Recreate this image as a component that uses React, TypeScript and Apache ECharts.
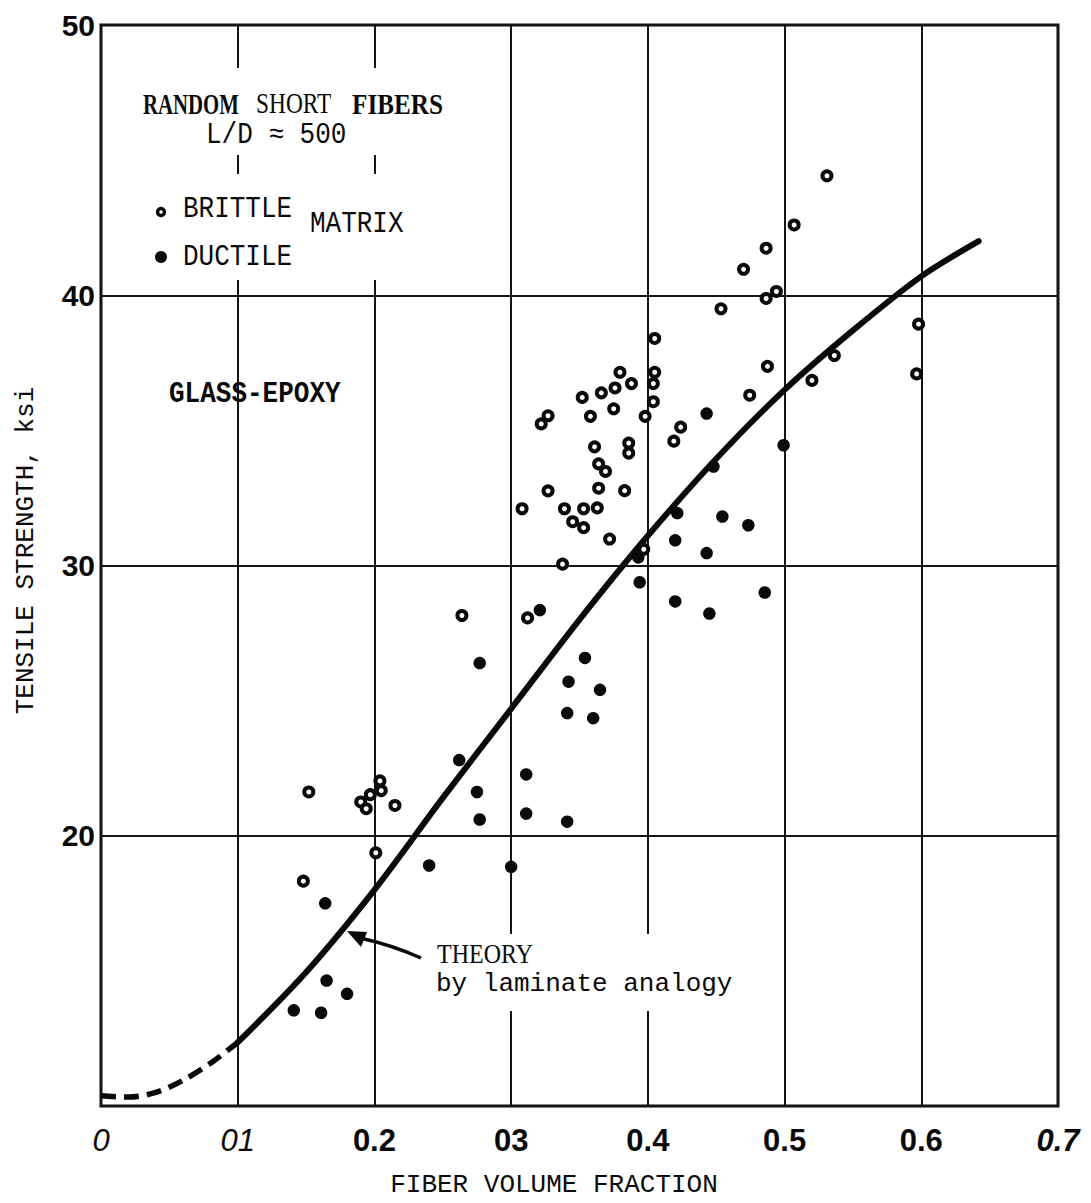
import React, { useEffect, useRef } from "react";
import * as echarts from "echarts";

// ---- data ----
const xTickLabels = ["0", "01", "0.2", "03", "0.4", "0.5", "0.6", "0.7"];
const xTickItalic = [0, 1];
const xTickBoldItalic = [7];
const yTickLabels = ["", "20", "30", "40", "50"]; // values 10..50

// open circles: brittle matrix  [fiber volume fraction, tensile strength ksi]
const brittle: number[][] = [
  [0.152, 21.62], [0.19, 21.25], [0.194, 21.0], [0.197, 21.52], [0.204, 22.03],
  [0.205, 21.67], [0.215, 21.12], [0.201, 19.37], [0.148, 18.32], [0.264, 28.15],
  [0.312, 28.06], [0.308, 32.1], [0.322, 35.24], [0.327, 35.54], [0.327, 32.76],
  [0.3376, 30.05], [0.339, 32.1], [0.345, 31.62], [0.352, 36.22], [0.353, 32.1],
  [0.353, 31.4], [0.358, 35.52], [0.361, 34.39], [0.363, 32.13], [0.364, 33.76],
  [0.364, 32.86], [0.366, 36.39], [0.369, 33.48], [0.372, 30.98], [0.375, 35.8],
  [0.376, 36.57], [0.3796, 37.15], [0.383, 32.77], [0.386, 34.53], [0.386, 34.16],
  [0.388, 36.73], [0.397, 30.6], [0.398, 35.52], [0.404, 36.73], [0.404, 36.06],
  [0.405, 37.15], [0.405, 38.4], [0.419, 34.6], [0.424, 35.12], [0.4535, 39.5],
  [0.47, 40.96], [0.4745, 36.3], [0.4865, 41.74], [0.4865, 39.88], [0.4875, 37.37],
  [0.494, 40.14], [0.507, 42.6], [0.52, 36.85], [0.531, 44.42], [0.5364, 37.77],
  [0.5966, 37.09], [0.598, 38.93],
];

// filled dots: ductile matrix
const ductile: number[][] = [
  [0.141, 13.54], [0.161, 13.45], [0.165, 14.64], [0.18, 14.15], [0.164, 17.5],
  [0.24, 18.9], [0.262, 22.8], [0.275, 21.62], [0.277, 20.6], [0.3, 18.85],
  [0.311, 22.27], [0.311, 20.82], [0.341, 20.52], [0.277, 26.39], [0.321, 28.35],
  [0.341, 24.54], [0.342, 25.7], [0.354, 26.58], [0.36, 24.35], [0.365, 25.4],
  [0.393, 30.3], [0.394, 29.38], [0.42, 28.67], [0.42, 30.93], [0.4215, 31.94],
  [0.443, 35.62], [0.443, 30.46], [0.445, 28.22], [0.448, 33.66], [0.4545, 31.81],
  [0.4735, 31.49], [0.4855, 29.0], [0.4993, 34.45],
];

// theory by laminate analogy (dashed extrapolation, then solid)
const theoryDashed: number[][] = [
  [0, 10.38], [0.02, 10.33], [0.04, 10.5], [0.06, 10.95], [0.08, 11.58], [0.1, 12.35],
];
const theorySolid: number[][] = [
  [0.1, 12.35], [0.15, 14.95], [0.2, 18.0], [0.25, 21.4], [0.3, 24.7], [0.35, 28.0],
  [0.4, 31.1], [0.45, 33.95], [0.5, 36.5], [0.55, 38.7], [0.6, 40.7], [0.642, 42.0],
];

const MONO = "'Liberation Mono', 'DejaVu Sans Mono', monospace";
const SERIF = "'Liberation Serif', 'DejaVu Serif', serif";
const SANS = "'Liberation Sans', Arial, sans-serif";
const INK = "#0a0a0a";

function txt(text: string, x: number, y: number, font: string, extra: any = {}) {
  return {
    type: "text",
    x,
    y,
    z: 10,
    ...extra,
    style: { text, font, fill: INK, textAlign: "left", textVerticalAlign: "middle", ...(extra.style || {}) },
  };
}

export default function App() {
  const ref = useRef<HTMLDivElement>(null);
  useEffect(() => {
    if (!ref.current) return;
    const chart = echarts.init(ref.current, undefined, { renderer: "svg" });
    const option: any = {
      animation: false,
      backgroundColor: "#fff",
      grid: { left: 101, right: 33, top: 25, bottom: 94, show: true, borderColor: INK, borderWidth: 3 },
      xAxis: {
        type: "value",
        min: 0,
        max: 0.7,
        interval: 0.1,
        axisLine: { show: false },
        axisTick: { show: false },
        splitLine: { show: true, lineStyle: { color: "#151515", width: 2 } },
        axisLabel: {
          margin: 19,
          formatter: (v: number) => {
            const i = Math.round(v * 10);
            const t = xTickLabels[i] ?? "";
            if (xTickItalic.includes(i)) return `{it|${t}}`;
            if (xTickBoldItalic.includes(i)) return `{bi|${t}}`;
            return `{bd|${t}}`;
          },
          rich: {
            it: { fontFamily: SANS, fontSize: 31, fontStyle: "italic", color: INK },
            bi: { fontFamily: SANS, fontSize: 31, fontStyle: "italic", fontWeight: "bold", color: INK },
            bd: { fontFamily: SANS, fontSize: 31, fontWeight: "bold", color: INK },
          },
        },
        name: "FIBER VOLUME FRACTION",
        nameLocation: "middle",
        nameGap: 66,
        nameTextStyle: { fontFamily: MONO, fontSize: 26, color: INK, padding: [0, 51, 0, 0] },
      },
      yAxis: {
        type: "value",
        min: 10,
        max: 50,
        interval: 10,
        axisLine: { show: false },
        axisTick: { show: false },
        splitLine: { show: true, lineStyle: { color: "#151515", width: 2 } },
        axisLabel: {
          margin: 6,
          fontFamily: SANS,
          fontSize: 30,
          fontWeight: "bold",
          color: INK,
          formatter: (v: number) => yTickLabels[Math.round((v - 10) / 10)] ?? "",
        },
        name: "TENSILE STRENGTH, ksi",
        nameLocation: "middle",
        nameRotate: 90,
        nameGap: 62,
        nameTextStyle: { fontFamily: MONO, fontSize: 26, color: INK, padding: [0, 0, 0, 30] },
      },
      series: [
        {
          name: "BRITTLE",
          type: "scatter",
          data: brittle,
          symbol: "circle",
          symbolSize: 9,
          z: 3,
          itemStyle: { color: "#fff", borderColor: INK, borderWidth: 4, opacity: 1 },
        },
        {
          name: "DUCTILE",
          type: "scatter",
          data: ductile,
          symbol: "circle",
          symbolSize: 12.5,
          z: 3,
          itemStyle: { color: INK, opacity: 1 },
        },
        {
          name: "THEORY (extrapolated)",
          type: "line",
          data: theoryDashed,
          smooth: 0.3,
          showSymbol: false,
          z: 5,
          lineStyle: { color: INK, width: 5.5, type: [15, 8] },
        },
        {
          name: "THEORY by laminate analogy",
          type: "line",
          data: theorySolid,
          smooth: 0.3,
          showSymbol: false,
          z: 5,
          lineStyle: { color: INK, width: 6, cap: "round" },
        },
      ],
      graphic: {
        elements: [
          // gaps in the grid behind the annotation blocks
          { type: "rect", z: 1, shape: { x: 140, y: 68, width: 310, height: 87 }, style: { fill: "#fff" } },
          { type: "rect", z: 1, shape: { x: 140, y: 174, width: 310, height: 106 }, style: { fill: "#fff" } },
          { type: "rect", z: 1, shape: { x: 425, y: 934, width: 335, height: 77 }, style: { fill: "#fff" } },
          txt("RANDOM", 143, 104, `bold 26px ${SERIF}`, { scaleX: 0.8, scaleY: 1.1 }),
          txt("SHORT", 256, 104, `26px ${SERIF}`, { scaleX: 0.9, scaleY: 1.1 }),
          txt("FIBERS", 352, 104, `bold 26px ${SERIF}`, { scaleX: 0.97, scaleY: 1.1 }),
          txt("L/D \u2248 500", 206, 135, `26px ${MONO}`, { scaleY: 1.1 }),
          { type: "circle", z: 10, shape: { cx: 161, cy: 212, r: 3.5 }, style: { fill: "#fff", stroke: INK, lineWidth: 3.5 } },
          txt("BRITTLE", 183, 209, `26px ${MONO}`, { scaleY: 1.15 }),
          txt("MATRIX", 310, 224, `26px ${MONO}`, { scaleY: 1.15 }),
          { type: "circle", z: 10, shape: { cx: 161, cy: 257, r: 6 }, style: { fill: INK } },
          txt("DUCTILE", 183, 257, `26px ${MONO}`, { scaleY: 1.15 }),
          txt("GLASS-EPOXY", 169, 394, `bold 26px ${MONO}`, { scaleY: 1.1 }),
          txt("THEORY", 437, 954, `24px ${SERIF}`, { scaleY: 1.1 }),
          txt("by laminate analogy", 436, 984, `26px ${MONO}`),
          {
            type: "bezierCurve",
            z: 10,
            shape: { x1: 421, y1: 958, cpx1: 392, cpy1: 945, x2: 360, y2: 938 },
            style: { stroke: INK, lineWidth: 3.5, fill: null },
          },
          {
            type: "polygon",
            z: 10,
            shape: { points: [[347, 931], [367, 932], [361, 947]] },
            style: { fill: INK },
          },
        ],
      },
    };
    chart.setOption(option);
    return () => chart.dispose();
  }, []);
  return (
    <div
      ref={ref}
      style={{ position: "fixed", left: 0, top: 0, width: 1091, height: 1203, background: "#fff" }}
    />
  );
}
